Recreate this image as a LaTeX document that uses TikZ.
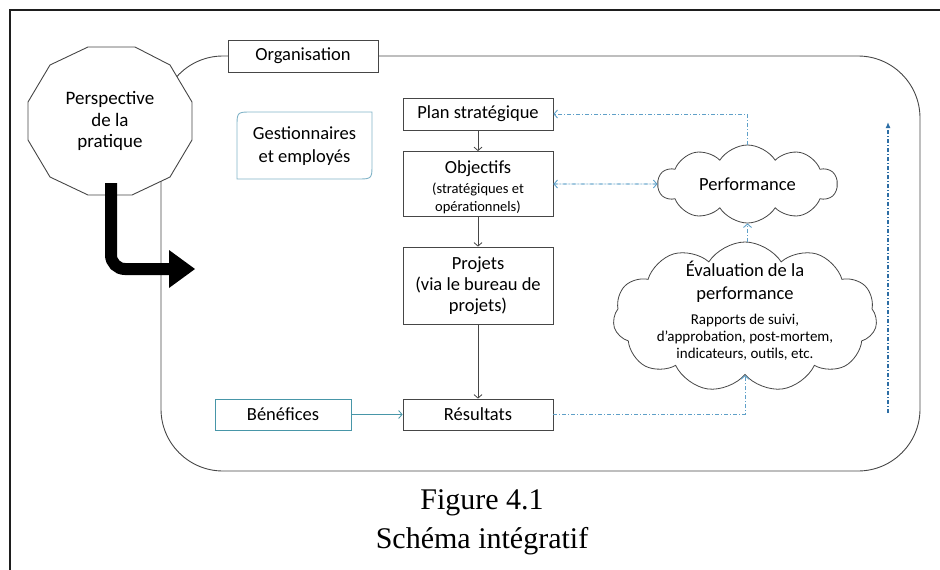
\documentclass[tikz,border=0pt]{standalone}
\usepackage{fontspec}
\setmainfont{Carlito}
\newfontfamily\capfont{Liberation Serif}
\usetikzlibrary{arrows.meta,shapes.symbols,calc}

\definecolor{linegray}{RGB}{70,70,70}
\definecolor{framecol}{RGB}{30,30,30}
\definecolor{benefcol}{RGB}{72,150,168}
\definecolor{gestcol}{RGB}{130,180,200}
\definecolor{dashcol}{RGB}{95,160,200}
\definecolor{upcol}{RGB}{45,110,165}

\tikzset{
  box/.style={draw=linegray, line width=0.8pt, fill=white, minimum width=150pt,
              align=center, inner sep=0pt, font=\fontsize{18.5}{21}\selectfont},
  arr/.style={draw=linegray, line width=0.8pt, -{Straight Barb[length=3.5pt,width=8pt]}},
  dd/.style={draw=dashcol, line width=0.9pt, dash pattern=on 4pt off 2pt on 1pt off 2pt},
  ddtip/.style={-{Straight Barb[length=3.5pt,width=8pt]}},
  puff/.style={cloud, draw=linegray, line width=0.8pt, fill=white, inner sep=0pt}
}

\begin{document}
\begin{tikzpicture}[x=1pt,y=-1pt]
\useasboundingbox (0,0) rectangle (940,570);

% outer frame (top and left edges)
\draw[framecol, line width=1.4pt] (940,10) -- (10,10) -- (10,570);

% organisation outline
\draw[linegray, line width=0.9pt, rounded corners=62pt] (161,56) rectangle (920,471);
\node[box, minimum height=32pt] (org) at (303,56) {Organisation};

% perspective of the practice (twelve-sided)
\draw[linegray, line width=0.9pt, fill=white]
  (88,47) -- (135,47) -- (170,65) -- (192,102) -- (192,140) -- (170,177) --
  (132,195) -- (88,195) -- (50,177) -- (28,140) -- (28,102) -- (50,65) -- cycle;
\node[align=center, font=\fontsize{19}{21.5}\selectfont] (persp) at (110,121)
  {Perspective\\de la\\pratique};

% thick bent arrow
\draw[line width=12pt, rounded corners=14pt] (111,183) -- (111,269) -- (171,269);
\fill (169,250) -- (195,269) -- (169,288) -- cycle;

% managers and employees
\draw[gestcol, line width=0.9pt, fill=white]
  (237,179) -- (237,127) .. controls (237,112) .. (252,112) -- (372,112) --
  (372,164) .. controls (372,179) .. (357,179) -- cycle;
\node[align=center, font=\fontsize{18.5}{23}\selectfont] (gest) at (304.5,146)
  {Gestionnaires\\et employés};

% central chain
\node[box, minimum height=65pt] (obj) at (478,184) {};
\node[box, minimum height=32pt] (plan) at (478,114) {Plan stratégique};
\node[align=center, font=\fontsize{18.5}{21}\selectfont, inner sep=0pt] (objtxt) at (478,187)
  {Objectifs\\[-1pt]{\fontsize{14.5}{18}\selectfont(stratégiques et}\\[-3pt]{\fontsize{14.5}{18}\selectfont opérationnels)}};
\node[box, minimum height=77pt] (proj) at (478,285.5)
  {Projets\\(via le bureau de\\projets)};
\node[box, minimum height=31pt] (res) at (478,414.5) {Résultats};
\node[box, draw=benefcol, minimum width=136pt, minimum height=31pt] (benef) at (283,414.5) {Bénéfices};

\draw[arr] (plan) -- (obj);
\draw[arr] (obj) -- (proj);
\draw[arr] (proj) -- (res);
\draw[arr, draw=benefcol] (benef) -- (res);

% clouds
\node[puff, cloud puffs=10, cloud puff arc=115, aspect=2.3,
      minimum width=179pt, minimum height=78pt] (perf) at (747.5,184) {};
\node[font=\fontsize{18.5}{21}\selectfont] (perftxt) at (perf.center) {Performance};

\node[puff, cloud puffs=11, cloud puff arc=115, aspect=1.75,
      minimum width=264pt, minimum height=150pt] (eval) at (745,317) {};
\node[align=center, font=\fontsize{18.5}{23}\selectfont] (evaltitle) at (745,282)
  {Évaluation de la\\performance};
\node[align=center, font=\fontsize{15}{17}\selectfont] (evaldesc) at (745,337)
  {Rapports de suivi,\\d’approbation, post-mortem,\\indicateurs, outils, etc.};

% feedback links
\draw[dd, ddtip] (perf.north) |- (plan.east);
\draw[dd, ddtip] (perf.west) -- (obj.east);
\draw[dd, ddtip] (obj.east) -- (perf.west);
\draw[dd, ddtip] (eval.north -| perf.south) -- (perf.south);
\draw[dd, ddtip] (res.east) -| (eval.south);

% upward flow at right
\coordinate (upfoot) at (888,413);
\coordinate (uphead) at (888,122);
\draw[dd, draw=upcol, line width=1.3pt, -{Latex[length=6pt,width=5pt]}] (upfoot) -- (uphead);

% caption
\node[align=center, font=\capfont\fontsize{30}{39}\selectfont] (cap) at (482,522)
  {Figure 4.1\\Schéma intégratif};
\end{tikzpicture}
\end{document}
